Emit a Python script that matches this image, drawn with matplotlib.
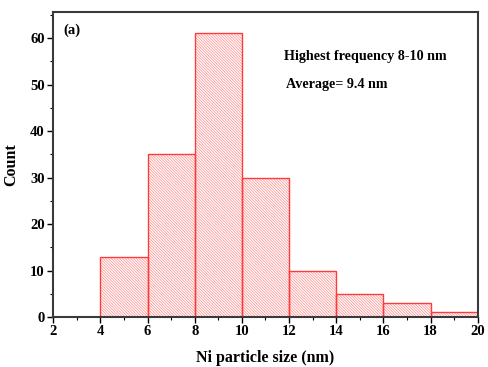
import matplotlib.pyplot as plt

bin_edges = [4, 6, 8, 10, 12, 14, 16, 18, 20]
counts = [13, 35, 61, 30, 10, 5, 3, 1]
x_ticks = [2, 4, 6, 8, 10, 12, 14, 16, 18, 20]
y_ticks = [0, 10, 20, 30, 40, 50, 60]

plt.rcParams['font.family'] = ['Liberation Serif', 'DejaVu Serif']
plt.rcParams['font.weight'] = 'bold'
plt.rcParams['hatch.linewidth'] = 0.5

fig = plt.figure(figsize=(4.88, 3.67), dpi=100)
ax = fig.add_axes([0.109, 0.136, 0.87, 0.83])

lefts = bin_edges[:-1]
widths = [b - a for a, b in zip(bin_edges[:-1], bin_edges[1:])]
# hatch fill in lighter red, outline drawn on top
ax.bar(lefts, counts, width=widths, align='edge', color='white',
       edgecolor='#ff8a8a', hatch='\\' * 12, linewidth=0, zorder=2)
ax.bar(lefts, counts, width=widths, align='edge', fill=False,
       edgecolor='#ff3b3b', linewidth=1.0, zorder=3)

ax.set_xlim(2, 20)
ax.set_ylim(0, 65.5)
ax.set_xticks(x_ticks)
ax.set_yticks(y_ticks)
ax.set_xticks([3, 5, 7, 9, 11, 13, 15, 17, 19], minor=True)
ax.set_yticks([5, 15, 25, 35, 45, 55, 65], minor=True)
ax.tick_params(which='major', direction='out', length=4, width=1, labelsize=10.5, pad=2)
ax.tick_params(which='minor', direction='out', length=2, width=0.8)
for lab in ax.get_xticklabels() + ax.get_yticklabels():
    lab.set_fontweight('bold')

for side in ['left', 'bottom', 'top', 'right']:
    ax.spines[side].set_visible(True)
    ax.spines[side].set_color('#3a3a3a')
    ax.spines[side].set_linewidth(1.5)
    ax.spines[side].set_zorder(5)

ax.set_xlabel('Ni particle size (nm)', fontsize=11.5, fontweight='bold', labelpad=8)
ax.set_ylabel('Count', fontsize=11.5, fontweight='bold', labelpad=8)

ax.text(0.025, 0.965, '(a)', transform=ax.transAxes, fontsize=10.5,
        fontweight='bold', va='top', ha='left')
ax.text(0.543, 0.855, 'Highest frequency 8-10 nm', transform=ax.transAxes,
        fontsize=10.2, fontweight='bold', va='center', ha='left')
ax.text(0.548, 0.765, 'Average= 9.4 nm', transform=ax.transAxes,
        fontsize=10.2, fontweight='bold', va='center', ha='left')

fig.savefig('out.png', dpi=100)
